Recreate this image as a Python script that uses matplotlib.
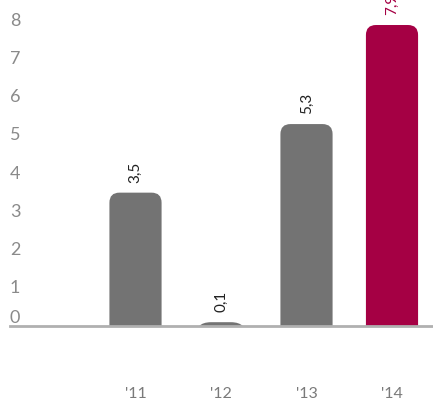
import matplotlib
matplotlib.use("Agg")
import matplotlib.pyplot as plt
from matplotlib.patches import FancyBboxPatch
from matplotlib.transforms import blended_transform_factory

categories = ["'11", "'12", "'13", "'14"]
values = [3.5, 0.1, 5.3, 7.9]
value_labels = ["3,5", "0,1", "5,3", "7,9"]
colors = ["#737373", "#737373", "#737373", "#A50044"]
label_colors = ["#222222", "#222222", "#222222", "#A50044"]
yticks = [0, 1, 2, 3, 4, 5, 6, 7, 8]

W, H = 433, 403
fig = plt.figure(figsize=(W / 100, H / 100), dpi=100)
ax_left, ax_right, ax_base, ax_top = 10, 433, 326, 0
ax = fig.add_axes([ax_left / W, (H - ax_base) / H, (ax_right - ax_left) / W, (ax_base - ax_top) / H])

px_per_unit_y = 38.1
px_per_unit_x = 85.5
ax.set_ylim(0, (ax_base - ax_top) / px_per_unit_y)
x0 = -(135.5 - ax_left) / px_per_unit_x
ax.set_xlim(x0, x0 + (ax_right - ax_left) / px_per_unit_x)

font = "Lato"
x = list(range(len(categories)))
bars = ax.bar(x, values, width=0.61, color=colors)
for b, c in zip(bars, colors):
    bx, bw, bh = b.get_x(), b.get_width(), b.get_height()
    b.remove()
    r_px = 10 if bh * px_per_unit_y > 10 else 16
    p = FancyBboxPatch((bx, -1), bw, bh + 1,
                       boxstyle=f"round,pad=0,rounding_size={r_px / px_per_unit_x}",
                       mutation_aspect=px_per_unit_x / px_per_unit_y,
                       facecolor=c, edgecolor="none", clip_on=True)
    ax.add_patch(p)

for xi, v, t, lc in zip(x, values, value_labels, label_colors):
    ax.annotate(t, (xi, v), xytext=(0, 7), textcoords="offset points",
                rotation=90, ha="center", va="bottom", fontsize=11,
                color=lc, family=font, annotation_clip=False)

trans = blended_transform_factory(ax.transAxes, ax.transData)
for t in yticks:
    ax.text(0, t, str(t), transform=trans, ha="left",
            va="bottom" if t == 0 else "center",
            fontsize=13, color="#8a8a8a", family=font)

transx = blended_transform_factory(ax.transData, fig.transFigure)
for xi, c in zip(x, categories):
    fig.text(xi, (H - 394.5) / H, c, transform=transx, ha="center", va="center",
             fontsize=11.5, color="#7a7a7a", family=font)

ax.axhline(0, color="#b0b0b0", lw=2, zorder=5, clip_on=False)
ax.axis("off")
fig.savefig("out.png", dpi=100)
